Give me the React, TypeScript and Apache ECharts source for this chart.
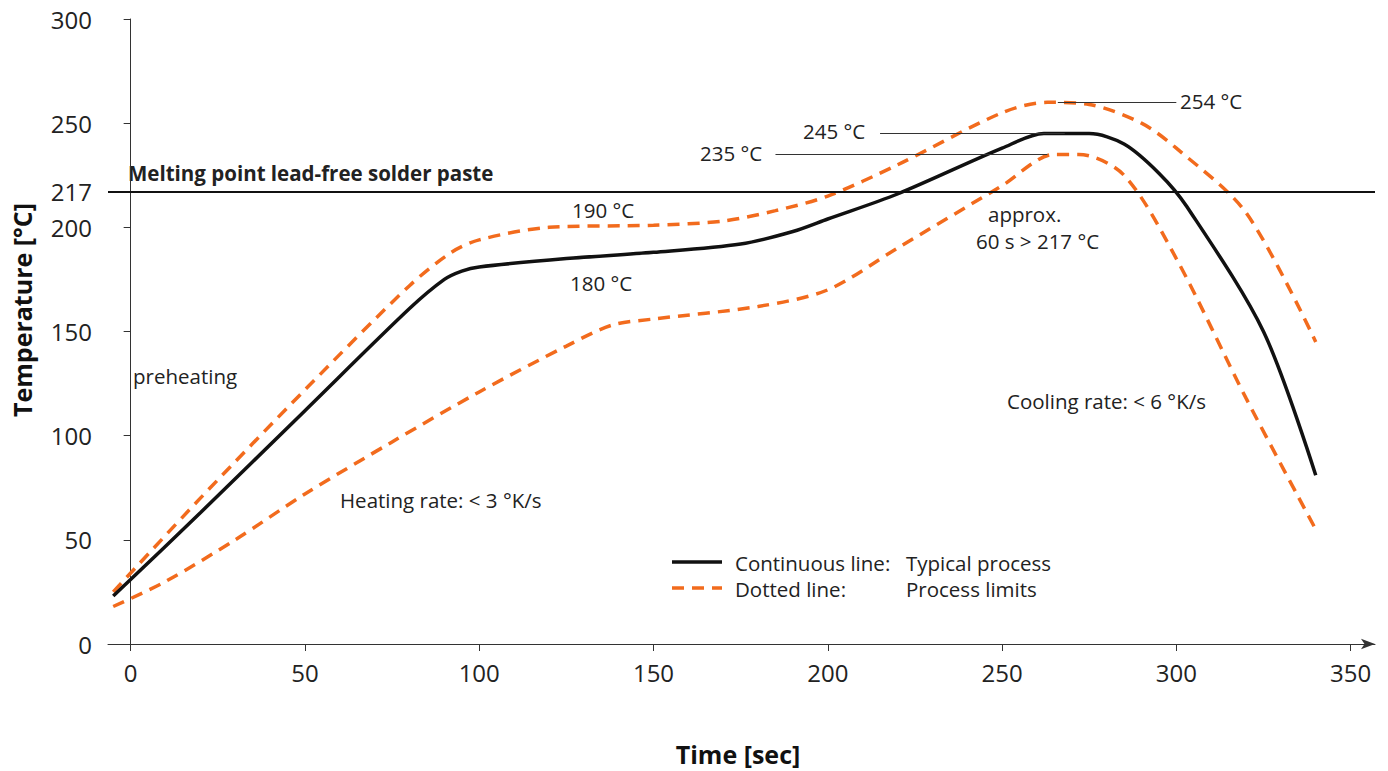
import * as echarts from "echarts";
import { useEffect, useRef } from "react";

const typical = [
  [-5, 23], [20, 63], [50, 112], [80, 161], [90, 175], [95, 179], [100, 181], [125, 185], [150, 188],
  [175, 192], [190, 198], [200, 204], [220, 216], [250, 238], [262, 245], [275, 245],
  [285, 240], [295, 226], [303, 210], [325, 150], [340, 81],
];
const upper = [
  [-5, 25], [20, 70], [50, 122], [80, 172], [92, 188], [100, 194], [120, 200], [150, 201],
  [170, 203], [185, 208], [200, 215], [220, 230], [250, 255], [263, 260], [275, 259],
  [290, 250], [300, 238], [320, 207], [340, 145],
];
const lower = [
  [-5, 18], [10, 30], [30, 50], [50, 72], [75, 97], [100, 121], [125, 143], [138, 153], [150, 156],
  [180, 162], [200, 170], [220, 190], [250, 220], [265, 235], [272, 235], [285, 225],
  [300, 185], [320, 118], [340, 55],
];
const yTicks = [0, 50, 100, 150, 200, 217, 250, 300];
const xTicks = [0, 50, 100, 150, 200, 250, 300, 350];
const meltingPoint = 217;
const peakLines = [
  { from: [266, 260], to: [300, 260] },
  { from: [215, 245], to: [268, 245] },
  { from: [185, 235], to: [263, 235] },
];

const FONT = "Open Sans";
const ORANGE = "#f26b1d";

const App = () => {
  const node = useRef<HTMLDivElement>(null);

  useEffect(() => {
    const chart = echarts.init(node.current, null, { renderer: "svg" });
    const txt = (x: number, y: number, text: string, extra: any = {}) => ({
      type: "text",
      x,
      y,
      style: { text, fontFamily: FONT, fontSize: 20.5, fill: "#222", verticalAlign: "middle", ...extra },
    });
    chart.setOption({
      animation: false,
      textStyle: { fontFamily: FONT },
      grid: { left: 108, right: 13, top: 19, bottom: 127 },
      xAxis: {
        type: "value",
        min: -6.5,
        max: 357,
        splitLine: { show: false },
        axisLine: { lineStyle: { color: "#333", width: 1 }, symbol: ["none", "arrow"], symbolSize: [8, 14] },
        axisTick: { customValues: xTicks, length: 7, lineStyle: { color: "#333" } },
        axisLabel: { customValues: xTicks, fontSize: 24, color: "#222", margin: 16, fontFamily: FONT },
      },
      yAxis: {
        type: "value",
        min: 0,
        max: 300,
        splitLine: { show: false },
        axisLine: { show: true, lineStyle: { color: "#333", width: 1 } },
        axisTick: { show: true, customValues: yTicks, length: 7, lineStyle: { color: "#333" } },
        axisLabel: { customValues: yTicks, fontSize: 24, color: "#222", margin: 16, fontFamily: FONT },
      },
      series: [
        {
          type: "line",
          data: upper,
          smooth: 0.3,
          symbol: "none",
          lineStyle: { color: ORANGE, width: 3.5, type: [12, 8] },
        },
        {
          type: "line",
          data: lower,
          smooth: 0.3,
          symbol: "none",
          lineStyle: { color: ORANGE, width: 3.5, type: [12, 8] },
        },
        {
          type: "line",
          data: typical,
          smooth: 0.3,
          symbol: "none",
          lineStyle: { color: "#111", width: 3.5 },
          markLine: {
            silent: true,
            symbol: "none",
            label: { show: false },
            data: [
              [
                { coord: [-6.5, meltingPoint], lineStyle: { color: "#111", width: 2, type: "solid" } },
                { coord: [357, meltingPoint] },
              ],
              ...peakLines.map((l) => [
                { coord: l.from, lineStyle: { color: "#333", width: 1, type: "solid" } },
                { coord: l.to },
              ]),
            ],
          },
        },
      ],
      graphic: [
        txt(128, 173, "Melting point lead-free solder paste", { fontWeight: "bold", fontSize: 20.5 }),
        txt(572, 210, "190 °C"),
        txt(570, 283, "180 °C"),
        txt(700, 153, "235 °C"),
        txt(803, 131, "245 °C"),
        txt(1180, 101, "254 °C"),
        txt(988, 214, "approx."),
        txt(976, 241, "60 s > 217 °C"),
        txt(133, 376, "preheating"),
        txt(340, 500, "Heating rate: < 3 °K/s"),
        txt(1007, 401, "Cooling rate: < 6 °K/s"),
        { type: "line", shape: { x1: 672, y1: 562, x2: 722, y2: 562 }, style: { stroke: "#111", lineWidth: 3.5 } },
        { type: "line", shape: { x1: 672, y1: 588, x2: 722, y2: 588 }, style: { stroke: ORANGE, lineWidth: 3.5, lineDash: [12, 8] } },
        txt(735, 563, "Continuous line:"),
        txt(906, 563, "Typical process"),
        txt(735, 589, "Dotted line:"),
        txt(906, 589, "Process limits"),
        {
          type: "text",
          x: 738,
          y: 754,
          style: { text: "Time [sec]", fontFamily: FONT, fontSize: 25, fontWeight: "bold", fill: "#111", align: "center", verticalAlign: "middle" },
        },
        {
          type: "text",
          x: 22,
          y: 310,
          rotation: Math.PI / 2,
          style: { text: "Temperature [°C]", fontFamily: FONT, fontSize: 25, fontWeight: "bold", fill: "#111", align: "center", verticalAlign: "middle" },
        },
      ],
    });
    return () => chart.dispose();
  }, []);

  return (
    <div
      ref={node}
      style={{ position: "absolute", left: 0, top: 0, width: 1388, height: 771, background: "#fff" }}
    ></div>
  );
};

export default App;
